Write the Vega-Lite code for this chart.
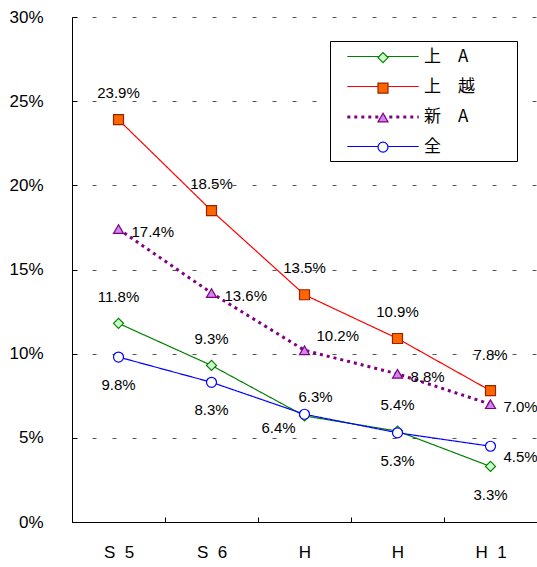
{
  "$schema": "https://vega.github.io/schema/vega-lite/v6.json",
  "width": 465,
  "height": 505,
  "autosize": {"type": "none"},
  "padding": {"left": 72, "top": 17, "right": 0, "bottom": 45},
  "background": "white",
  "config": {
    "view": {"stroke": null},
    "text": {"font": "Liberation Sans", "fontSize": 15, "color": "black"}
  },
  "data": {
    "values": [
      {"s": "上　A", "t": "S5", "v": 0.118},
      {"s": "上　A", "t": "S6", "v": 0.093},
      {"s": "上　A", "t": "Ha", "v": 0.063},
      {"s": "上　A", "t": "Hb", "v": 0.054},
      {"s": "上　A", "t": "H1", "v": 0.033},
      {"s": "上　越", "t": "S5", "v": 0.239},
      {"s": "上　越", "t": "S6", "v": 0.185},
      {"s": "上　越", "t": "Ha", "v": 0.135},
      {"s": "上　越", "t": "Hb", "v": 0.109},
      {"s": "上　越", "t": "H1", "v": 0.078},
      {"s": "新　A", "t": "S5", "v": 0.174},
      {"s": "新　A", "t": "S6", "v": 0.136},
      {"s": "新　A", "t": "Ha", "v": 0.102},
      {"s": "新　A", "t": "Hb", "v": 0.088},
      {"s": "新　A", "t": "H1", "v": 0.070},
      {"s": "全", "t": "S5", "v": 0.098},
      {"s": "全", "t": "S6", "v": 0.083},
      {"s": "全", "t": "Ha", "v": 0.064},
      {"s": "全", "t": "Hb", "v": 0.053},
      {"s": "全", "t": "H1", "v": 0.045}
    ]
  },
  "encoding": {
    "x": {
      "field": "t", "type": "nominal",
      "scale": {"type": "band", "domain": ["S5", "S6", "Ha", "Hb", "H1"], "paddingInner": 0, "paddingOuter": 0},
      "axis": {
        "title": null, "labelAngle": 0,
        "labelExpr": "{'S5': 'S\u00a0\u00a05', 'S6': 'S\u00a0\u00a06', 'Ha': 'H', 'Hb': 'H', 'H1': 'H\u00a0\u00a01'}[datum.value]",
        "labelFont": "Liberation Sans", "labelFontSize": 17, "labelColor": "black",
        "labelPadding": 27,
        "tickBand": "extent", "tickSize": -5, "tickColor": "black",
        "domainColor": "black", "grid": false
      }
    },
    "y": {
      "field": "v", "type": "quantitative",
      "scale": {"domain": [0, 0.3], "nice": false},
      "axis": {
        "title": null, "values": [0, 0.05, 0.1, 0.15, 0.2, 0.25, 0.3], "format": ".0%",
        "labelFont": "Liberation Sans", "labelFontSize": 17, "labelColor": "black",
        "labelPadding": 34, "tickSize": -5, "tickColor": "black", "domainColor": "black",
        "grid": true, "gridColor": "#555555", "gridDash": [4, 16], "gridWidth": 1
      }
    }
  },
  "layer": [
    {
      "mark": {"type": "line", "strokeCap": "butt"},
      "encoding": {
        "stroke": {
          "field": "s", "type": "nominal",
          "scale": {"domain": ["上　A", "上　越", "新　A", "全"], "range": ["#008000", "#ff0000", "#800080", "#0000ff"]},
          "legend": {
            "orient": "none", "legendX": 258, "legendY": 24, "title": null, "padding": 6,
            "fillColor": "white", "strokeColor": "black",
            "symbolType": "M-4.2,0H4.2", "symbolSize": 289, "symbolOffset": 37,
            "labelOffset": 31, "labelFont": "Noto Sans CJK JP", "labelFontSize": 17, "labelColor": "black",
            "labelExpr": "datum.label + '\u2800\u2800\u2800'", "rowPadding": 12
          }
        },
        "strokeDash": {
          "field": "s", "type": "nominal",
          "scale": {"domain": ["上　A", "上　越", "新　A", "全"], "range": [[1, 0], [1, 0], [3, 4], [1, 0]]},
          "legend": {
            "orient": "none", "legendX": 258, "legendY": 24, "title": null, "padding": 6,
            "fillColor": "white", "strokeColor": "black",
            "symbolType": "M-4.2,0H4.2", "symbolSize": 289, "symbolOffset": 37,
            "labelOffset": 31, "labelFont": "Noto Sans CJK JP", "labelFontSize": 17, "labelColor": "black",
            "labelExpr": "datum.label + '\u2800\u2800\u2800'", "rowPadding": 12
          }
        },
        "strokeWidth": {
          "field": "s", "type": "ordinal",
          "scale": {"type": "ordinal", "domain": ["上　A", "上　越", "新　A", "全"], "range": [1.2, 1.2, 3, 1.2]},
          "legend": {
            "orient": "none", "legendX": 258, "legendY": 24, "title": null, "padding": 6,
            "fillColor": "white", "strokeColor": "black",
            "symbolType": "M-4.2,0H4.2", "symbolSize": 289, "symbolOffset": 37,
            "labelOffset": 31, "labelFont": "Noto Sans CJK JP", "labelFontSize": 17, "labelColor": "black",
            "labelExpr": "datum.label + '\u2800\u2800\u2800'", "rowPadding": 12
          }
        }
      }
    },
    {
      "mark": {"type": "point", "filled": false, "opacity": 1, "strokeWidth": 1.2},
      "encoding": {
        "shape": {
          "field": "s", "type": "nominal",
          "scale": {"domain": ["上　A", "上　越", "新　A", "全"], "range": ["diamond", "square", "triangle-up", "circle"]},
          "legend": {
            "orient": "none", "legendX": 258, "legendY": 24, "title": null, "padding": 10.6,
            "fillColor": null, "strokeColor": null,
            "symbolSize": 100, "symbolOffset": 36.4, "symbolStrokeWidth": 1.2,
            "labelExpr": "''", "labelOffset": 0, "labelFontSize": 1,
            "rowPadding": 14.5
          }
        },
        "fill": {
          "field": "s", "type": "nominal",
          "scale": {"domain": ["上　A", "上　越", "新　A", "全"], "range": ["#ccffcc", "#ff6600", "#cc88ee", "#ffffff"]},
          "legend": {
            "orient": "none", "legendX": 258, "legendY": 24, "title": null, "padding": 10.6,
            "fillColor": null, "strokeColor": null,
            "symbolSize": 100, "symbolOffset": 36.4, "symbolStrokeWidth": 1.2,
            "labelExpr": "''", "labelOffset": 0, "labelFontSize": 1,
            "rowPadding": 14.5
          }
        },
        "stroke": {
          "field": "s", "type": "nominal",
          "scale": {"domain": ["上　A", "上　越", "新　A", "全"], "range": ["#008000", "#992200", "#800080", "#0000ff"]},
          "legend": {
            "orient": "none", "legendX": 258, "legendY": 24, "title": null, "padding": 10.6,
            "fillColor": null, "strokeColor": null,
            "symbolSize": 100, "symbolOffset": 36.4, "symbolStrokeWidth": 1.2,
            "labelExpr": "''", "labelOffset": 0, "labelFontSize": 1,
            "rowPadding": 14.5
          }
        },
        "size": {"value": 100}
      }
    },
    {
      "transform": [{"filter": "datum.s == '上　越' && datum.t != 'H1'"}],
      "mark": {"type": "text", "dy": -27},
      "encoding": {"text": {"field": "v", "type": "quantitative", "format": ".1%"}}
    },
    {
      "transform": [{"filter": "datum.s == '上　越' && datum.t == 'H1'"}],
      "mark": {"type": "text", "dy": -36},
      "encoding": {"text": {"field": "v", "type": "quantitative", "format": ".1%"}}
    },
    {
      "transform": [{"filter": "datum.s == '新　A' && datum.t != 'Ha'"}],
      "mark": {"type": "text", "align": "left", "dx": 13, "dy": 3},
      "encoding": {"text": {"field": "v", "type": "quantitative", "format": ".1%"}}
    },
    {
      "transform": [{"filter": "datum.s == '新　A' && datum.t == 'Ha'"}],
      "mark": {"type": "text", "align": "left", "dx": 12, "dy": -14},
      "encoding": {"text": {"field": "v", "type": "quantitative", "format": ".1%"}}
    },
    {
      "transform": [{"filter": "datum.s == '上　A' && datum.t != 'Ha' && datum.t != 'H1'"}],
      "mark": {"type": "text", "dy": -26},
      "encoding": {"text": {"field": "v", "type": "quantitative", "format": ".1%"}}
    },
    {
      "transform": [{"filter": "datum.s == '上　A' && datum.t == 'Ha'"}],
      "mark": {"type": "text", "dx": 11, "dy": -19},
      "encoding": {"text": {"field": "v", "type": "quantitative", "format": ".1%"}}
    },
    {
      "transform": [{"filter": "datum.s == '上　A' && datum.t == 'H1'"}],
      "mark": {"type": "text", "dy": 29},
      "encoding": {"text": {"field": "v", "type": "quantitative", "format": ".1%"}}
    },
    {
      "transform": [{"filter": "datum.s == '全' && datum.t != 'Ha' && datum.t != 'H1'"}],
      "mark": {"type": "text", "dy": 28},
      "encoding": {"text": {"field": "v", "type": "quantitative", "format": ".1%"}}
    },
    {
      "transform": [{"filter": "datum.s == '全' && datum.t == 'Ha'"}],
      "mark": {"type": "text", "dx": -26, "dy": 14},
      "encoding": {"text": {"field": "v", "type": "quantitative", "format": ".1%"}}
    },
    {
      "transform": [{"filter": "datum.s == '全' && datum.t == 'H1'"}],
      "mark": {"type": "text", "align": "left", "dx": 13, "dy": 11},
      "encoding": {"text": {"field": "v", "type": "quantitative", "format": ".1%"}}
    }
  ],
  "resolve": {
    "scale": {"stroke": "independent"},
    "legend": {"stroke": "independent", "strokeDash": "independent", "strokeWidth": "independent", "shape": "independent", "fill": "independent"}
  }
}
